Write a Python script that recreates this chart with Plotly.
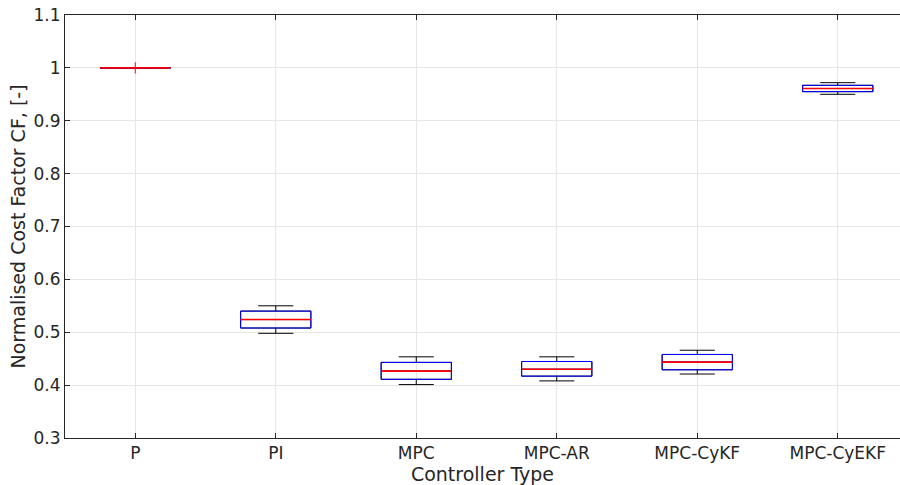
import plotly.graph_objects as go

categories = ["P", "PI", "MPC", "MPC-AR", "MPC-CyKF", "MPC-CyEKF"]
positions = [1, 2, 3, 4, 5, 6]
whisker_low = [0.9995, 0.498, 0.401, 0.408, 0.421, 0.950]
q1 = [0.9998, 0.508, 0.411, 0.417, 0.429, 0.955]
median = [1.000, 0.524, 0.4265, 0.430, 0.4435, 0.961]
q3 = [1.0002, 0.540, 0.443, 0.4447, 0.458, 0.967]
whisker_high = [1.0005, 0.550, 0.4535, 0.4535, 0.466, 0.972]
outlier_x = [1]
outlier_y = [1.0]

y_ticks = [0.3, 0.4, 0.5, 0.6, 0.7, 0.8, 0.9, 1.0, 1.1]

fig = go.Figure()

# whiskers (black)
fig.add_trace(go.Box(
    x=positions, q1=q1, median=median, q3=q3,
    lowerfence=whisker_low, upperfence=whisker_high,
    width=0.5, whiskerwidth=0.5, boxpoints=False,
    line=dict(color="black", width=1), fillcolor="rgba(0,0,0,0)",
    showlegend=False, hoverinfo="skip"))
# box (blue)
fig.add_trace(go.Box(
    x=positions, q1=q1, median=median, q3=q3,
    lowerfence=q1, upperfence=q3,
    width=0.5, whiskerwidth=0, boxpoints=False,
    line=dict(color="#0000ff", width=1), fillcolor="rgba(0,0,0,0)",
    showlegend=False, hoverinfo="skip"))
# median (red)
fig.add_trace(go.Box(
    x=positions, q1=median, median=median, q3=median,
    lowerfence=median, upperfence=median,
    width=0.5, whiskerwidth=0, boxpoints=False,
    line=dict(color="#ff0000", width=1.6), fillcolor="rgba(0,0,0,0)",
    showlegend=False, hoverinfo="skip"))
# outliers
fig.add_trace(go.Scatter(
    x=outlier_x, y=outlier_y, mode="markers",
    marker=dict(symbol="cross-thin", size=8, line=dict(color="#ff0000", width=1)),
    showlegend=False, hoverinfo="skip"))

font_family = "DejaVu Sans, sans-serif"

fig.update_layout(
    width=900, height=485,
    margin=dict(l=65, r=0, t=15, b=47),
    paper_bgcolor="white", plot_bgcolor="white",
    boxmode="overlay",
    font=dict(family=font_family, size=17, color="#262626"),
    xaxis=dict(
        range=[0.5, 6.443],
        tickvals=positions, ticktext=categories,
        automargin=False,
        showgrid=True, gridcolor="#e6e6e6", gridwidth=1,
        zeroline=False,
        showline=True, linecolor="#262626", linewidth=1, mirror="ticks",
        ticks="inside", ticklen=5, tickcolor="#262626",
        tickfont=dict(size=17, color="#262626"),
        title=dict(text="Controller Type", font=dict(size=19, color="#262626"), standoff=0),
    ),
    yaxis=dict(
        range=[0.3, 1.1],
        tickvals=y_ticks,
        automargin=False,
        showgrid=True, gridcolor="#e6e6e6", gridwidth=1,
        zeroline=False,
        showline=True, linecolor="#262626", linewidth=1,
        ticks="inside", ticklen=5, tickcolor="#262626",
        tickfont=dict(size=17, color="#262626"),
        title=dict(text="Normalised Cost Factor CF, [-]", font=dict(size=19, color="#262626"), standoff=2),
    ),
)

fig.write_html(
    "out.html",
    config={"displayModeBar": False},
    post_script="document.body.style.margin='0';document.body.style.overflow='hidden';",
)
